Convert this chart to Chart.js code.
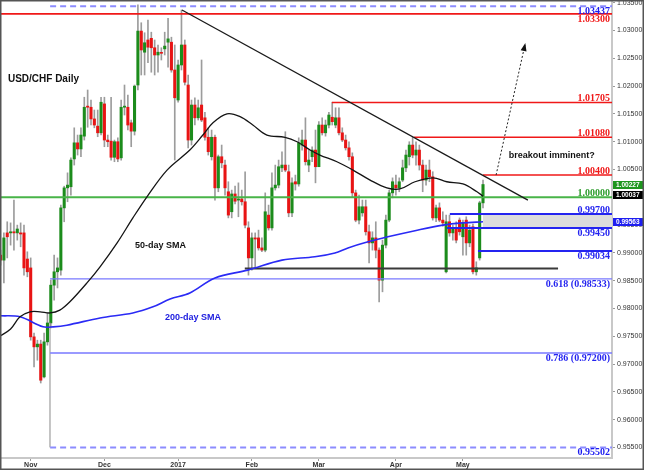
<!DOCTYPE html>
<html>
<head>
<meta charset="utf-8">
<script src="https://cdn.jsdelivr.net/npm/chart.js@4.4.1/dist/chart.umd.min.js"></script>
<style>
  html, body { margin: 0; padding: 0; background: #fff; }
  canvas { display: block; }
</style>
</head>
<body>
<canvas id="chart" width="645" height="470"></canvas>
<script>
// USD/CHF daily candles, one per trading day (index 0 = Oct 19 2016, 144 = May 9 2017)
const opens = [
  0.9896, 0.9887, 0.9936, 0.9936, 0.9938, 0.9936, 0.9936, 0.9936, 0.9889, 0.9873,
  0.9749, 0.9731, 0.9736, 0.9677, 0.9740, 0.9774, 0.9842, 0.9866, 0.9869, 0.9981,
  1.0017, 1.0019, 1.0069, 1.0098, 1.0087, 1.0110, 1.0164, 1.0162, 1.0141, 1.0128,
  1.0116, 1.0168, 1.0103, 1.0101, 1.0072, 1.0100, 1.0071, 1.0162, 1.0162, 1.0134,
  1.0119, 1.0202, 1.0299, 1.0261, 1.0283, 1.0286, 1.0269, 1.0256, 1.0260, 1.0267,
  1.0279, 1.0279, 1.0229, 1.0175, 1.0238, 1.0274, 1.0202, 1.0103, 1.0166, 1.0143,
  1.0166, 1.0143, 1.0108, 1.0073, 1.0108, 1.0017, 1.0073, 1.0058, 1.0010, 0.9974,
  1.0006, 0.9995, 0.9997, 0.9992, 0.9945, 0.9891, 0.9927, 0.9927, 0.9909, 0.9905,
  0.9968, 0.9945, 1.0017, 1.0022, 1.0053, 1.0058, 1.0046, 0.9972, 1.0028, 1.0024,
  1.0094, 1.0103, 1.0058, 1.0073, 1.0085, 1.0055, 1.0130, 1.0116, 1.0130, 1.0144,
  1.0130, 1.0143, 1.0116, 1.0103, 1.0089, 1.0073, 1.0008, 0.9959, 0.9972, 0.9983,
  0.9938, 0.9918, 0.9927, 0.9905, 0.9851, 0.9914, 0.9959, 1.0008, 1.0022, 1.0017,
  1.0031, 1.0053, 1.0073, 1.0094, 1.0076, 1.0085, 1.0058, 1.0031, 1.0049, 1.0037,
  0.9963, 0.9981, 0.9959, 0.9866, 0.9956, 0.9936, 0.9945, 0.9959, 0.9929, 0.9959,
  0.9918, 0.9947, 0.9866, 0.9891, 0.9990
];
const highs = [
  0.9905, 0.9936, 0.9956, 0.9954, 0.9995, 0.9950, 0.9954, 0.9950, 0.9902, 0.9891,
  0.9756, 0.9743, 0.9743, 0.9756, 0.9792, 0.9851, 0.9896, 0.9891, 0.9986, 1.0020,
  1.0044, 1.0071, 1.0125, 1.0112, 1.0125, 1.0180, 1.0193, 1.0175, 1.0157, 1.0157,
  1.0180, 1.0180, 1.0112, 1.0180, 1.0103, 1.0107, 1.0175, 1.0202, 1.0184, 1.0139,
  1.0202, 1.0346, 1.0314, 1.0296, 1.0319, 1.0297, 1.0283, 1.0274, 1.0269, 1.0297,
  1.0322, 1.0288, 1.0274, 1.0247, 1.0337, 1.0283, 1.0220, 1.0175, 1.0179, 1.0175,
  1.0247, 1.0153, 1.0125, 1.0121, 1.0112, 1.0076, 1.0094, 1.0067, 1.0028, 1.0013,
  1.0020, 1.0026, 1.0013, 1.0046, 0.9956, 0.9936, 0.9936, 0.9941, 0.9927, 1.0008,
  0.9986, 1.0044, 1.0058, 1.0067, 1.0082, 1.0118, 1.0058, 1.0035, 1.0040, 1.0107,
  1.0121, 1.0143, 1.0085, 1.0091, 1.0121, 1.0136, 1.0143, 1.0139, 1.0153, 1.0171,
  1.0161, 1.0161, 1.0125, 1.0112, 1.0100, 1.0080, 1.0013, 1.0004, 0.9995, 0.9995,
  0.9950, 0.9938, 0.9956, 0.9909, 0.9923, 0.9968, 1.0013, 1.0035, 1.0040, 1.0035,
  1.0067, 1.0085, 1.0100, 1.0108, 1.0100, 1.0094, 1.0067, 1.0058, 1.0067, 1.0046,
  0.9986, 0.9990, 0.9974, 0.9968, 0.9968, 0.9950, 0.9956, 0.9963, 0.9959, 0.9965,
  0.9950, 0.9952, 0.9884, 0.9993, 1.0031
];
const lows = [
  0.9878, 0.9846, 0.9891, 0.9914, 0.9905, 0.9923, 0.9911, 0.9860, 0.9857, 0.9743,
  0.9695, 0.9707, 0.9666, 0.9675, 0.9734, 0.9765, 0.9815, 0.9837, 0.9860, 0.9956,
  0.9992, 1.0004, 1.0058, 1.0076, 1.0073, 1.0103, 1.0126, 1.0130, 1.0125, 1.0109,
  1.0112, 1.0091, 1.0091, 1.0067, 1.0064, 1.0064, 1.0067, 1.0148, 1.0121, 1.0091,
  1.0112, 1.0193, 1.0220, 1.0220, 1.0242, 1.0225, 1.0220, 1.0225, 1.0247, 1.0256,
  1.0234, 1.0225, 1.0067, 1.0171, 1.0229, 1.0202, 1.0089, 1.0094, 1.0130, 1.0139,
  1.0136, 1.0103, 1.0076, 1.0067, 0.9995, 1.0010, 1.0053, 1.0004, 0.9963, 0.9963,
  0.9988, 0.9965, 0.9986, 0.9945, 0.9860, 0.9869, 0.9873, 0.9905, 0.9902, 0.9902,
  0.9941, 0.9941, 1.0013, 1.0017, 1.0046, 1.0046, 0.9965, 0.9965, 1.0013, 1.0020,
  1.0085, 1.0058, 1.0046, 1.0064, 1.0026, 1.0058, 1.0112, 1.0110, 1.0125, 1.0130,
  1.0125, 1.0112, 1.0100, 1.0085, 1.0067, 1.0001, 0.9956, 0.9952, 0.9966, 0.9932,
  0.9882, 0.9905, 0.9891, 0.9812, 0.9830, 0.9909, 0.9956, 0.9999, 1.0004, 1.0010,
  1.0028, 1.0046, 1.0058, 1.0071, 1.0058, 1.0049, 1.0010, 1.0022, 1.0028, 0.9959,
  0.9956, 0.9956, 0.9948, 0.9864, 0.9930, 0.9923, 0.9918, 0.9932, 0.9896, 0.9896,
  0.9911, 0.9862, 0.9860, 0.9887, 0.9981
];
const closes = [
  0.9887, 0.9927, 0.9929, 0.9938, 0.9936, 0.9943, 0.9934, 0.9873, 0.9866, 0.9749,
  0.9731, 0.9736, 0.9671, 0.9740, 0.9774, 0.9842, 0.9866, 0.9873, 0.9981, 1.0017,
  1.0022, 1.0067, 1.0098, 1.0087, 1.0112, 1.0162, 1.0162, 1.0141, 1.0130, 1.0116,
  1.0171, 1.0103, 1.0100, 1.0072, 1.0100, 1.0069, 1.0162, 1.0164, 1.0130, 1.0119,
  1.0200, 1.0299, 1.0265, 1.0278, 1.0270, 1.0269, 1.0256, 1.0261, 1.0259, 1.0272,
  1.0285, 1.0229, 1.0179, 1.0238, 1.0274, 1.0207, 1.0103, 1.0166, 1.0143, 1.0161,
  1.0139, 1.0108, 1.0082, 1.0108, 1.0017, 1.0073, 1.0062, 1.0017, 0.9968, 1.0006,
  0.9993, 0.9997, 0.9992, 0.9950, 0.9891, 0.9927, 0.9925, 0.9909, 0.9905, 0.9974,
  0.9945, 1.0017, 1.0022, 1.0055, 1.0058, 1.0049, 0.9972, 1.0026, 1.0024, 1.0098,
  1.0103, 1.0064, 1.0067, 1.0085, 1.0055, 1.0130, 1.0116, 1.0130, 1.0148, 1.0136,
  1.0143, 1.0116, 1.0103, 1.0089, 1.0073, 1.0008, 0.9959, 0.9983, 0.9983, 0.9938,
  0.9918, 0.9927, 0.9905, 0.9851, 0.9914, 0.9959, 1.0008, 1.0028, 1.0017, 1.0028,
  1.0053, 1.0076, 1.0094, 1.0076, 1.0085, 1.0058, 1.0031, 1.0049, 1.0037, 0.9963,
  0.9981, 0.9959, 0.9954, 0.9956, 0.9936, 0.9945, 0.9923, 0.9938, 0.9954, 0.9918,
  0.9941, 0.9866, 0.9873, 0.9990, 1.0023
];

// moving averages (trading-day index, price)
const sma50Idx = [0, 3, 5.8, 8.8, 11.8, 14.8, 17.7, 20.7, 25.8, 29.7, 34.8, 39.5, 43.7, 49.7, 56.5, 60.4, 63.4, 67.6, 71.5, 75.3, 79.5, 84.9, 88.5, 92.4, 95.3, 100.4, 105.2, 110.3, 115.3, 119.2, 123.7, 129.1, 133.2, 138, 142.2, 144];
const sma50Val = [0.9751, 0.9763, 0.9785, 0.9794, 0.9794, 0.9792, 0.9797, 0.9812, 0.9846, 0.9875, 0.9918, 0.9963, 1.0001, 1.0049, 1.0085, 1.0112, 1.0134, 1.0150, 1.0145, 1.0130, 1.0112, 1.0108, 1.0100, 1.0085, 1.0076, 1.0064, 1.0049, 1.0031, 1.0017, 1.0015, 1.0028, 1.0035, 1.0028, 1.0024, 1.0010, 1.0002];
const sma200Idx = [0, 5.8, 12.7, 15.7, 19.8, 29.7, 39.5, 45.5, 50.6, 56.5, 64, 73.8, 84, 93.8, 99.8, 103.7, 109.7, 115.6, 123.7, 132, 138, 144];
const sma200Val = [0.9787, 0.9785, 0.9767, 0.9767, 0.9770, 0.9783, 0.9792, 0.9803, 0.9817, 0.9828, 0.9855, 0.9869, 0.9887, 0.9893, 0.9900, 0.9909, 0.9920, 0.9929, 0.9940, 0.9950, 0.9954, 0.9956];

// horizontal levels (value, first trading-day index, label)
const levelValues = [1.03437, 1.03300, 1.01705, 1.01080, 1.00400, 1.00000, 0.99700, 0.99450, 0.99034, 0.98533, 0.97200, 0.95502];
const levelStarts = [14.8, -0.16, 98.9, 123.4, 144.0, -0.16, 134.1, 133.2, 142.5, 14.8, 14.8, 14.8];
const levelTexts = ['1.03437', '1.03300', '1.01705', '1.01080', '1.00400', '1.00000', '0.99700', '0.99450', '0.99034', '0.618 (0.98533)', '0.786 (0.97200)', '0.95502'];

const trendIdx = [54.15, 157.4];
const trendVal = [1.0337, 0.9995];
const arrowIdx = [147.9, 156.5];
const arrowVal = [1.0040, 1.0274];
const supportIdx = [72.9, 166.4];
const supportVal = 0.9872;
const fibAnchorIdx = 14.76;
const fibAnchorVal = [0.95502, 0.9775];
const zoneStart = 144;
const zoneVal = [0.9945, 0.9970];

const tagValues = [1.00227, 1.00037, 0.99563];

const monthIdx = [9, 31, 53, 75, 95, 118, 138];
const monthLabels = ['Nov', 'Dec', '2017', 'Feb', 'Mar', 'Apr', 'May'];
const yTicks = [0.955, 0.960, 0.965, 0.970, 0.975, 0.980, 0.985, 0.990, 0.995, 1.000, 1.005, 1.010, 1.015, 1.020, 1.025, 1.030, 1.035];

const notes = [
  { text: 'USD/CHF Daily', x: 2.2, y: 1.0212 },
  { text: '50-day SMA', x: 40.1, y: 0.9914 },
  { text: '200-day SMA', x: 49.1, y: 0.9783 },
  { text: 'breakout imminent?', x: 151.7, y: 1.0076 }
];

// ---- styles ----
const xMin = -0.16, xMax = 182.5;
const yMin = 0.95311, yMax = 1.03549;
const UP = '#1c8c1c', DOWN = '#e81414';
const levelKinds = ['dash', 'red', 'red', 'red', 'red', 'green', 'blue', 'blue', 'blue', 'fib', 'fib', 'dash'];
const levelAbove = [false, false, true, true, true, true, true, false, false, false, false, false];
const kindStyle = {
  dash:  { line: '#8c8cff', text: '#1c1cf0', width: 2,   dash: [6, 4] },
  red:   { line: '#f01818', text: '#f01818', width: 1.6, dash: [] },
  green: { line: '#48b448', text: '#2c9c2c', width: 2,   dash: [] },
  blue:  { line: '#2424f0', text: '#2424f0', width: 2,   dash: [] },
  fib:   { line: '#7878ff', text: '#2424f0', width: 1.3, dash: [] }
};
const noteColors = ['#111', '#111', '#2020e0', '#111'];
const tagColors = ['#1e961e', '#000000', '#1e1ef0'];

const datasets = [];

datasets.push({
  type: 'bar',
  data: highs.map((h, i) => ({ x: i, y: [lows[i], h] })),
  backgroundColor: '#9c9c9c',
  barThickness: 1,
  grouped: false,
  order: 20
});
datasets.push({
  type: 'bar',
  data: opens.map((o, i) => ({ x: i, y: [o, closes[i]] })),
  backgroundColor: opens.map((o, i) => closes[i] >= o ? UP : DOWN),
  barThickness: 2.4,
  minBarLength: 1,
  grouped: false,
  order: 19
});

levelValues.forEach((v, k) => {
  const s = kindStyle[levelKinds[k]];
  datasets.push({
    type: 'line',
    data: [{ x: levelStarts[k], y: v }, { x: xMax, y: v }],
    borderColor: s.line,
    borderWidth: s.width,
    borderDash: s.dash,
    pointRadius: 0,
    order: 8
  });
});

datasets.push({
  type: 'line',
  data: [{ x: fibAnchorIdx, y: fibAnchorVal[0] }, { x: fibAnchorIdx, y: fibAnchorVal[1] }],
  borderColor: '#8a8a8a', borderWidth: 1, pointRadius: 0, order: 8
});
datasets.push({
  type: 'line',
  data: supportIdx.map(x => ({ x, y: supportVal })),
  borderColor: '#3a3a3a', borderWidth: 2, pointRadius: 0, order: 7
});
datasets.push({
  type: 'line',
  data: sma200Idx.map((x, k) => ({ x, y: sma200Val[k] })),
  borderColor: '#2a2af5', borderWidth: 1.6, pointRadius: 0, tension: 0.35, order: 6
});
datasets.push({
  type: 'line',
  data: sma50Idx.map((x, k) => ({ x, y: sma50Val[k] })),
  borderColor: '#141414', borderWidth: 1.3, pointRadius: 0, tension: 0.35, order: 5
});
datasets.push({
  type: 'line',
  data: trendIdx.map((x, k) => ({ x, y: trendVal[k] })),
  borderColor: '#1a1a1a', borderWidth: 1.3, pointRadius: 0, order: 4
});
datasets.push({
  type: 'line',
  data: arrowIdx.map((x, k) => ({ x, y: arrowVal[k] })),
  borderColor: '#222', borderWidth: 1, borderDash: [2, 2], pointRadius: 0, order: 3
});

const overlay = {
  id: 'overlay',
  beforeDatasetsDraw(chart) {
    const { ctx, scales: { x, y } } = chart;
    ctx.save();
    ctx.fillStyle = '#dcdcdc';
    const x0 = x.getPixelForValue(zoneStart), x1 = x.getPixelForValue(xMax);
    const y0 = y.getPixelForValue(zoneVal[1]), y1 = y.getPixelForValue(zoneVal[0]);
    ctx.fillRect(x0, y0, x1 - x0, y1 - y0);
    ctx.restore();
  },
  afterDatasetsDraw(chart) {
    const { ctx, chartArea, scales: { x, y } } = chart;
    ctx.save();
    // level labels
    ctx.font = 'bold 10px "Liberation Serif", serif';
    ctx.textAlign = 'right';
    ctx.textBaseline = 'alphabetic';
    levelValues.forEach((v, k) => {
      const py = y.getPixelForValue(v);
      ctx.fillStyle = kindStyle[levelKinds[k]].text;
      ctx.fillText(levelTexts[k], chartArea.right - 2, levelAbove[k] ? py - 1.3 : py + 8);
    });
    // notes
    ctx.textAlign = 'left';
    ctx.textBaseline = 'middle';
    notes.forEach((n, k) => {
      ctx.fillStyle = noteColors[k];
      ctx.font = k === 0 ? 'bold 10px "Liberation Sans", Arial, sans-serif' : 'bold 9px "Liberation Sans", Arial, sans-serif';
      ctx.fillText(n.text, x.getPixelForValue(n.x), y.getPixelForValue(n.y));
    });
    // arrow head
    const ax0 = x.getPixelForValue(arrowIdx[0]), ay0 = y.getPixelForValue(arrowVal[0]);
    const ax1 = x.getPixelForValue(arrowIdx[1]), ay1 = y.getPixelForValue(arrowVal[1]);
    const a = Math.atan2(ay1 - ay0, ax1 - ax0);
    ctx.fillStyle = '#111';
    ctx.beginPath();
    ctx.moveTo(ax1 + 2 * Math.cos(a), ay1 + 2 * Math.sin(a));
    ctx.lineTo(ax1 - 6 * Math.cos(a) + 3 * Math.sin(a), ay1 - 6 * Math.sin(a) - 3 * Math.cos(a));
    ctx.lineTo(ax1 - 6 * Math.cos(a) - 3 * Math.sin(a), ay1 - 6 * Math.sin(a) + 3 * Math.cos(a));
    ctx.closePath();
    ctx.fill();
    ctx.restore();
  },
  afterDraw(chart) {
    const { ctx, chartArea, scales: { y } } = chart;
    ctx.save();
    ctx.font = 'bold 6.5px "Liberation Sans", Arial, sans-serif';
    ctx.textAlign = 'left';
    ctx.textBaseline = 'middle';
    tagValues.forEach((v, k) => {
      const py = Math.round(y.getPixelForValue(v));
      ctx.fillStyle = tagColors[k];
      ctx.fillRect(chartArea.right + 1, py - 4, 31, 8);
      ctx.fillStyle = '#fff';
      ctx.fillText(v.toFixed(5), chartArea.right + 4, py + 0.5);
    });
    // outer frame
    ctx.strokeStyle = '#555';
    ctx.lineWidth = 1.5;
    ctx.strokeRect(0.75, 0.75, 642.5, 468.5);
    ctx.restore();
  }
};

new Chart(document.getElementById('chart'), {
  type: 'bar',
  data: { datasets },
  options: {
    responsive: false,
    animation: false,
    layout: { padding: 0 },
    plugins: { legend: { display: false }, tooltip: { enabled: false } },
    scales: {
      x: {
        type: 'linear',
        min: xMin,
        max: xMax,
        offset: false,
        afterBuildTicks: s => { s.ticks = monthIdx.map(v => ({ value: v })); },
        afterFit: s => { s.height = 12; s.paddingLeft = 0; s.paddingRight = 0; },
        ticks: {
          autoSkip: false,
          maxRotation: 0,
          padding: 0,
          color: '#333',
          font: { family: '"Liberation Sans", Arial, sans-serif', size: 7, weight: 'bold' },
          callback: v => monthLabels[monthIdx.indexOf(v)] || ''
        },
        grid: { drawOnChartArea: false, offset: false, tickLength: 3, color: '#999' },
        border: { color: '#c8c8c8', width: 2 }
      },
      y: {
        type: 'linear',
        position: 'right',
        min: yMin,
        max: yMax,
        beginAtZero: false,
        afterBuildTicks: s => { s.ticks = yTicks.map(v => ({ value: v })); },
        afterFit: s => { s.width = 33; s.paddingTop = 0; s.paddingBottom = 0; },
        ticks: {
          autoSkip: false,
          padding: 2,
          color: '#333',
          font: { family: '"Liberation Sans", Arial, sans-serif', size: 7 },
          callback: v => v.toFixed(5)
        },
        grid: { drawOnChartArea: false, tickLength: 3, color: '#999' },
        border: { color: '#c8c8c8', width: 2 }
      }
    }
  },
  plugins: [overlay]
});
</script>
</body>
</html>
